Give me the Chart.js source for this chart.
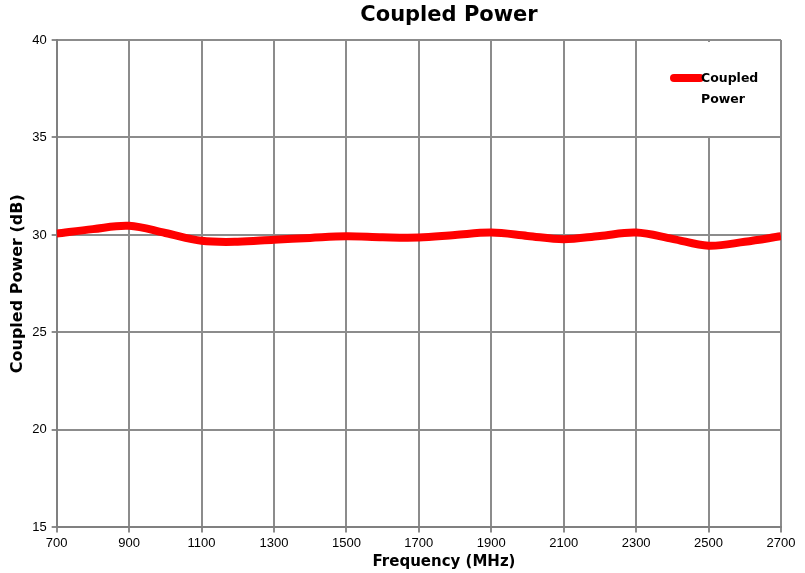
<!DOCTYPE html>
<html>
<head>
<meta charset="utf-8">
<script src="https://cdn.jsdelivr.net/npm/chart.js@4.4.0/dist/chart.umd.min.js"></script>
<style>
  html, body { margin: 0; padding: 0; background: #fff; }
  #wrap { width: 805px; height: 573px; }
</style>
</head>
<body>
<div id="wrap"><canvas id="chart" width="805" height="573"></canvas></div>
<script>
// frequency points (MHz) and measured coupled power (dB)
const freq = [700, 800, 900, 1000, 1100, 1200, 1300, 1400, 1500, 1600, 1700,
              1800, 1900, 2000, 2100, 2200, 2300, 2400, 2500, 2600, 2700];
const power = [30.07, 30.3, 30.47, 30.1, 29.7, 29.65, 29.76, 29.85, 29.93, 29.88, 29.87,
               30.0, 30.12, 29.95, 29.78, 29.95, 30.12, 29.8, 29.45, 29.65, 29.93];
const seriesName = 'Coupled Power';
const chartTitle = 'Coupled Power';
const xTitle = 'Frequency (MHz)';
const yTitle = 'Coupled Power (dB)';

const boldFont = "'DejaVu Sans', Verdana, sans-serif";
const tickFont = "'Liberation Sans', Arial, sans-serif";

// titles are centred on the whole chart block (plot + legend), as in the original
const titles = {
  id: 'titles',
  afterDraw(chart) {
    const { ctx } = chart;
    ctx.save();
    ctx.fillStyle = '#000';
    ctx.textAlign = 'center';
    ctx.textBaseline = 'middle';
    ctx.font = 'bold 21px ' + boldFont;
    ctx.fillText(chartTitle, 449, 16);
    ctx.font = 'bold 15px ' + boldFont;
    ctx.fillText(xTitle, 444, 562);
    ctx.restore();
  }
};

// legend box drawn inside the plot, top right
const legendBox = {
  id: 'legendBox',
  afterDraw(chart) {
    const { ctx, chartArea } = chart;
    const ds = chart.data.datasets[0];
    const x0 = chartArea.right - 135, y0 = chartArea.top;
    ctx.save();
    ctx.fillStyle = '#fff';
    ctx.fillRect(x0, y0 + 2, 134, 94);
    ctx.strokeStyle = ds.borderColor;
    ctx.lineWidth = 8;
    ctx.lineCap = 'round';
    ctx.beginPath();
    ctx.moveTo(x0 + 28, y0 + 38);
    ctx.lineTo(x0 + 54, y0 + 38);
    ctx.stroke();
    ctx.fillStyle = '#000';
    ctx.font = 'bold 12.5px ' + boldFont;
    ctx.textBaseline = 'middle';
    const words = ds.label.split(' ');
    ctx.fillText(words[0], x0 + 55, y0 + 39);
    ctx.fillText(words[1], x0 + 55, y0 + 60);
    ctx.restore();
  }
};

new Chart(document.getElementById('chart').getContext('2d'), {
  type: 'line',
  data: {
    datasets: [{
      label: seriesName,
      data: freq.map((f, i) => ({ x: f, y: power[i] })),
      borderColor: '#ff0000',
      borderWidth: 8,
      pointRadius: 0,
      tension: 0.35,
      fill: false
    }]
  },
  options: {
    responsive: false,
    animation: false,
    layout: { padding: { left: 8, right: 24, top: 40, bottom: 19 } },
    plugins: {
      legend: { display: false },
      tooltip: { enabled: false },
      title: { display: false }
    },
    scales: {
      x: {
        type: 'linear',
        min: 700,
        max: 2700,
        border: { color: '#808080', width: 2 },
        grid: { color: '#8c8c8c', lineWidth: 2, tickLength: 5 },
        ticks: {
          stepSize: 200, color: '#000', maxRotation: 0, padding: 3,
          font: { family: tickFont, size: 13 },
          callback: v => String(v)
        }
      },
      y: {
        min: 15,
        max: 40,
        border: { color: '#808080', width: 2 },
        grid: { color: '#8c8c8c', lineWidth: 2, tickLength: 5 },
        ticks: { stepSize: 5, color: '#000', padding: 5, font: { family: tickFont, size: 13 } },
        title: {
          display: true,
          text: yTitle,
          color: '#000',
          font: { family: boldFont, size: 16, weight: 'bold' },
          padding: { top: 0, bottom: 0 }
        }
      }
    }
  },
  plugins: [legendBox, titles]
});
</script>
</body>
</html>
